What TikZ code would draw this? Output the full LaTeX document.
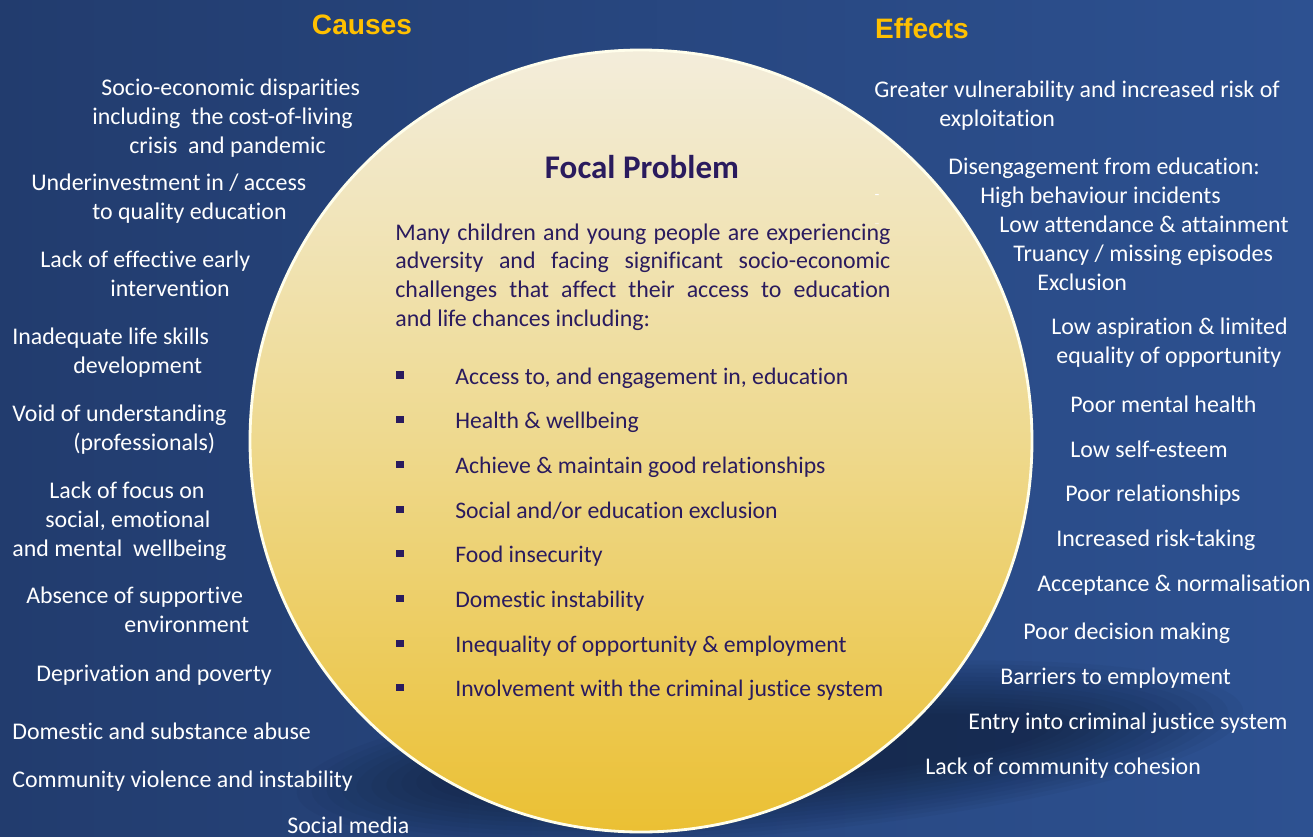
\documentclass[tikz,border=0pt]{standalone}
\usepackage{fontspec}
\setmainfont[Ligatures=NoCommon]{Carlito}
\newfontfamily\headfont{Liberation Sans}

\definecolor{navyL}{HTML}{223C6E}
\definecolor{navyR}{HTML}{2D5191}
\definecolor{gold}{HTML}{FFC000}
\definecolor{plum}{HTML}{2A1B5E}
\definecolor{creamtop}{HTML}{F3EDDB}
\definecolor{creammid}{HTML}{EED98E}
\definecolor{goldbot}{HTML}{EBC033}

% one picture pixel
\newlength\pxlen
\setlength\pxlen{0.5692pt}
\newcommand\shove[1]{\hspace*{#1\pxlen}}

\tikzset{
  cause/.style={text=white, align=left, anchor=base west, inner sep=0pt,
    font=\fontsize{13.6}{16.4}\selectfont},
  effect/.style={cause},
  heading/.style={text=gold, inner sep=0pt,
    font=\headfont\bfseries\fontsize{16}{18}\selectfont},
  bulletsq/.style={fill=plum, minimum size=4pt, inner sep=0pt},
  focalitem/.style={text=plum, anchor=base west, inner sep=0pt,
    font=\fontsize{13.5}{16.4}\selectfont},
}

\begin{document}
\begin{tikzpicture}[x=0.02cm, y=-0.02cm]
% background
\shade[left color=navyL, right color=navyR] (0,0) rectangle (1313,836);
\useasboundingbox (0,0) rectangle (1313,836);

% soft shadow under the circle
\foreach \k in {0,...,13}
  \fill[black, opacity=0.032, rotate around={5:(770,752)}]
    (770,752) ellipse ({475-\k*15} and {82-\k*4});

% the circle
\shade[top color=creamtop, bottom color=goldbot, middle color=creammid,
  draw=white!92!yellow, line width=1.6pt] (641,441) circle (391);

% headings
\node[heading] (causes) at (362,25) {Causes};
\node[heading] (effects) at (922,28) {Effects};

% focal problem
\node[text=plum, inner sep=0pt, font=\bfseries\fontsize{18.8}{22}\selectfont]
  (focal) at (642,167) {Focal Problem};
\node[text=plum, anchor=base west, inner sep=0pt, text width=281.8pt, align=justify,
  font=\fontsize{13.6}{16.4}\selectfont] (intro) at (395,240)
  {Many children and young people are experiencing\linebreak
   adversity and facing significant socio-economic\linebreak
   challenges that affect their access to education\linebreak
   and life chances including:};

\foreach \t [count=\i] in {{Access to, and engagement in, education},
    {Health \& wellbeing}, {Achieve \& maintain good relationships},
    {Social and/or education exclusion}, {Food insecurity},
    {Domestic instability}, {Inequality of opportunity \& employment},
    {Involvement with the criminal justice system}} {
  \node[bulletsq] (bul\i) at (400,{375+44.7*(\i-1)}) {};
  \node[focalitem] (item\i) at (455,{384+44.7*(\i-1)}) {\t};
}

\node[text=white, inner sep=0pt, font=\small] (dash1) at (877,197) {-};
\node[text=white, opacity=0.5, inner sep=0pt, font=\small] (dash2) at (877,226) {-};

% causes (anchored at the baseline of their last line)
\node[cause] (c1) at (92,153.6) {\shove{9}Socio-economic disparities\\
  including\ \ the cost-of-living\\ \shove{37}crisis\ \ and pandemic};
\node[cause] (c2) at (31,219.8) {Underinvestment in / access\\ \shove{61}to quality education};
\node[cause] (c3) at (40,296.8) {Lack of effective early\\ \shove{70}intervention};
\node[cause] (c4) at (12,373.8) {Inadequate life skills\\ \shove{61}development};
\node[cause] (c5) at (12,450.8) {Void of understanding\\ \shove{61}(professionals)};
\node[cause] (c6) at (12,556.6) {\shove{37}Lack of focus on\\ \shove{33}social, emotional\\
  and mental\ \ wellbeing};
\node[cause] (c7) at (26,632.8) {Absence of supportive\\ \shove{98}environment};
\node[cause] (c8) at (36,681) {Deprivation and poverty};
\node[cause] (c9) at (12,739) {Domestic and substance abuse};
\node[cause] (c10) at (12,787) {Community violence and instability};
\node[cause] (c11) at (287,833) {Social media};

% effects
\node[effect] (e1) at (874,126.8) {Greater vulnerability and increased risk of\\
  \shove{65}exploitation};
\node[effect] (e2) at (948,290.2) {Disengagement from education:\\
  \shove{32}High behaviour incidents\\ \shove{51}Low attendance \& attainment\\
  \shove{65}Truancy / missing episodes\\ \shove{89}Exclusion};
\node[effect] (e3) at (1051,363.8) {Low aspiration \& limited\\ \shove{5}equality of opportunity};
\node[effect] (e4) at (1070,412) {Poor mental health};
\node[effect] (e5) at (1070,457) {Low self-esteem};
\node[effect] (e6) at (1065,501) {Poor relationships};
\node[effect] (e7) at (1056,546) {Increased risk-taking};
\node[effect] (e8) at (1037,591) {Acceptance \& normalisation};
\node[effect] (e9) at (1023,639) {Poor decision making};
\node[effect] (e10) at (1000,684) {Barriers to employment};
\node[effect] (e11) at (968,729) {Entry into criminal justice system};
\node[effect] (e12) at (925,774) {Lack of community cohesion};
\end{tikzpicture}
\end{document}
